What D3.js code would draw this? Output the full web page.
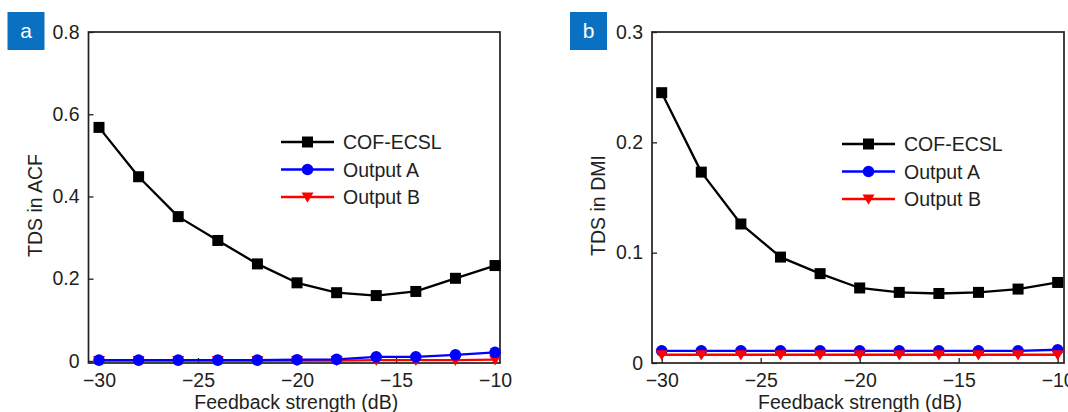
<!DOCTYPE html>
<html><head><meta charset="utf-8">
<script src="https://cdn.jsdelivr.net/npm/d3@7"></script>
<style>
body{margin:0;background:#fff;}
svg text{font-family:"Liberation Sans",Arial,sans-serif;fill:#231f20;}
</style></head>
<body><svg id="c" width="1068" height="412"></svg>
<script>
const feedback = [-30, -28, -26, -24, -22, -20, -18, -16, -14, -12, -10];
const xTicks = [-30, -25, -20, -15, -10];
// panel a: TDS in ACF
const acfCOF = [0.568, 0.448, 0.351, 0.293, 0.236, 0.190, 0.166, 0.159, 0.169, 0.201, 0.232];
const acfA   = [0.002, 0.002, 0.002, 0.002, 0.002, 0.003, 0.004, 0.010, 0.010, 0.015, 0.021];
const acfB   = [0.001, 0.001, 0.001, 0.001, 0.001, 0.001, 0.001, 0.002, 0.002, 0.002, 0.003];
const acfTicks = [0, 0.2, 0.4, 0.6, 0.8];
const acfTickLabels = ["0", "0.2", "0.4", "0.6", "0.8"];
// panel b: TDS in DMI
const dmiCOF = [0.245, 0.173, 0.126, 0.096, 0.081, 0.068, 0.064, 0.063, 0.064, 0.067, 0.073];
const dmiA   = [0.011, 0.011, 0.011, 0.011, 0.011, 0.011, 0.011, 0.011, 0.011, 0.011, 0.012];
const dmiB   = [0.0075, 0.0075, 0.0075, 0.0075, 0.0075, 0.0075, 0.0075, 0.0075, 0.0075, 0.0075, 0.0075];
const dmiTicks = [0, 0.1, 0.2, 0.3];
const dmiTickLabels = ["0", "0.1", "0.2", "0.3"];
const seriesNames = ["COF-ECSL", "Output A", "Output B"];
const colors = {"COF-ECSL":"#000000", "Output A":"#0000ff", "Output B":"#ff0000"};
const xLabel = "Feedback strength (dB)";

const svg = d3.select("#c");
const FS = 19.5;

function marker(g, name, x, y){
  const c = colors[name];
  if(name === "COF-ECSL"){
    g.append("rect").attr("x", x-5.5).attr("y", y-5.5).attr("width", 11).attr("height", 11).attr("fill", c);
  } else if(name === "Output A"){
    g.append("circle").attr("cx", x).attr("cy", y).attr("r", 5.8).attr("fill", c);
  } else {
    g.append("path").attr("d", `M${x-6},${y-4.5}L${x+6},${y-4.5}L${x},${y+5.8}Z`).attr("fill", c);
  }
}

function panel(o){
  const g = svg.append("g");
  const x = d3.scaleLinear().domain(o.xDomain).range([o.left, o.right]);
  const y = d3.scaleLinear().domain(o.yDomain).range([o.bottom, o.top]);
  g.append("rect").attr("x", o.left).attr("y", o.top).attr("width", o.right-o.left).attr("height", o.bottom-o.top)
    .attr("fill","none").attr("stroke","#231f20").attr("stroke-width",1.7);
  const xa = g.append("g").attr("transform", `translate(0,${o.bottom})`)
    .call(d3.axisBottom(x).tickValues(xTicks).tickSizeInner(-5).tickSizeOuter(0).tickPadding(10)
      .tickFormat(d => String(d).replace("-", "\u2212")));
  xa.select(".domain").remove();
  xa.selectAll("line").attr("stroke","#231f20").attr("stroke-width",1.3);
  xa.selectAll("text").attr("font-size", FS).attr("fill","#231f20").attr("font-family","Liberation Sans, Arial, sans-serif");
  const ya = g.append("g").attr("transform", `translate(${o.left},0)`)
    .call(d3.axisLeft(y).tickValues(o.yTicks).tickSizeInner(-5).tickSizeOuter(0).tickPadding(9)
      .tickFormat((d,i) => o.yTickLabels[i]));
  ya.select(".domain").remove();
  ya.selectAll("line").attr("stroke","#231f20").attr("stroke-width",1.3);
  ya.selectAll("text").attr("font-size", FS).attr("fill","#231f20").attr("font-family","Liberation Sans, Arial, sans-serif");
  g.append("text").attr("x", (o.left+o.right)/2 + 2).attr("y", 409).attr("text-anchor","middle")
    .attr("font-size", FS).text(xLabel);
  g.append("text").attr("transform", `translate(${o.yTitleX},${(o.top+o.bottom)/2+8}) rotate(-90)`)
    .attr("text-anchor","middle").attr("font-size", FS).text(o.yTitle);
  g.append("rect").attr("x", o.boxX).attr("y", 12).attr("width", 37).attr("height", 38).attr("fill", "#0a70c2");
  g.append("text").attr("x", o.boxX+18.5).attr("y", 38).attr("text-anchor","middle").attr("font-size", 21)
    .style("fill","#fff").text(o.label);
  const line = d3.line().x((d,i) => x(feedback[i])).y(d => y(d));
  o.order.forEach(name => {
    const vals = o.data[name];
    g.append("path").datum(vals).attr("d", line).attr("fill","none")
      .attr("stroke", colors[name]).attr("stroke-width", 2.3).attr("stroke-linejoin","round");
    vals.forEach((v,i) => marker(g, name, x(feedback[i]), y(v)));
  });
  seriesNames.forEach((name, i) => {
    const ly = o.legY + i*27.5;
    g.append("line").attr("x1", o.legX).attr("x2", o.legX+53).attr("y1", ly).attr("y2", ly)
      .attr("stroke", colors[name]).attr("stroke-width", 2.3);
    marker(g, name, o.legX+26.5, ly);
    g.append("text").attr("x", o.legX+62).attr("y", ly+7).attr("font-size", FS).text(name);
  });
}

panel({
  xDomain:[-30.53, -9.75], yDomain:[-0.005, 0.8],
  left:88.5, right:500, top:32, bottom:363,
  yTicks: acfTicks, yTickLabels: acfTickLabels, yTitle:"TDS in ACF", yTitleX:42,
  boxX:7.5, label:"a",
  data:{"COF-ECSL":acfCOF, "Output A":acfA, "Output B":acfB},
  order:["COF-ECSL","Output B","Output A"],
  legX:281, legY:142
});
panel({
  xDomain:[-30.49, -9.68], yDomain:[0, 0.3],
  left:652, right:1064, top:32, bottom:363,
  yTicks: dmiTicks, yTickLabels: dmiTickLabels, yTitle:"TDS in DMI", yTitleX:605,
  boxX:570, label:"b",
  data:{"COF-ECSL":dmiCOF, "Output A":dmiA, "Output B":dmiB},
  order:["COF-ECSL","Output A","Output B"],
  legX:842, legY:144
});
</script></body></html>
